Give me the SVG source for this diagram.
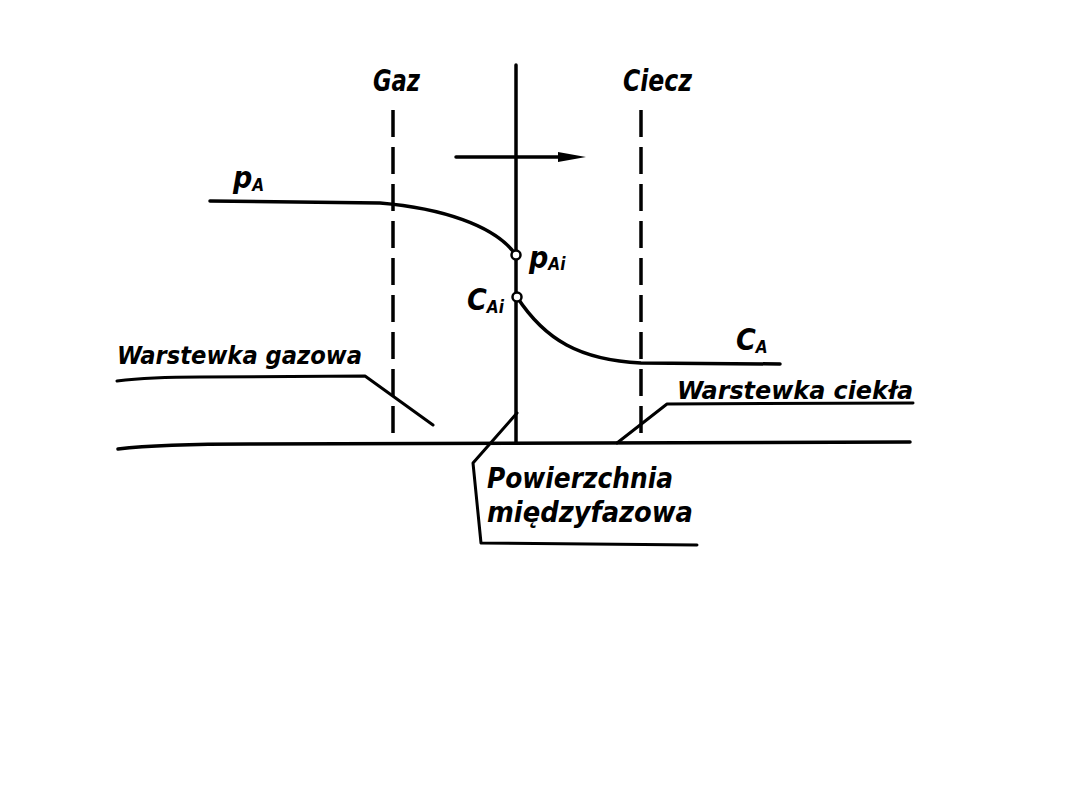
<svg xmlns="http://www.w3.org/2000/svg" width="1080" height="810" viewBox="0 0 1080 810">
<style>
.ln{fill:none;stroke:#000;stroke-width:3.5;stroke-linecap:round;stroke-linejoin:round}
.th{fill:none;stroke:#000;stroke-width:3;stroke-linecap:round;stroke-linejoin:round}
.ds{fill:none;stroke:#000;stroke-width:3.5;stroke-dasharray:27 10}
.t{font-family:"DejaVu Sans Condensed","DejaVu Sans","Liberation Sans",sans-serif;font-style:italic;font-weight:bold;fill:#000}
.pt{fill:#fff;stroke:#000;stroke-width:2.5}
</style>
<rect width="1080" height="810" fill="#fff"/>
<g id="connectors">
<path id="baseline" class="ln" d="M118,449 Q160,444 250,444 L910,442"/>
<path id="gas-film-boundary" class="ds" d="M393,110 L393,443"/>
<path id="liquid-film-boundary" class="ds" d="M641,110 L641,443"/>
<path id="interface" class="ln" d="M516,65 L516,443"/>
<path id="flux-arrow" class="ln" d="M456,157 L565,157"/>
<path d="M558,152 L586,157 L558,162 Z" fill="#000"/>
<path id="pA-curve" class="ln" d="M210,201 L380,203 C440,208 495,225 516,255"/>
<path id="cA-curve" class="ln" d="M517,297 C545,340 580,360 641,363 L780,364"/>
<path id="leader-gas" class="th" d="M117,381 Q150,377 200,377 L365,376 L433,425"/>
<path id="leader-liquid" class="th" d="M913,403 L667,404 L617,443"/>
<path id="leader-interface" class="th" d="M517,413 L473,463 L481,543 L697,545"/>
</g>
<g id="node-pAi"><circle class="pt" cx="516" cy="255" r="4.5"/></g>
<g id="node-cAi"><circle class="pt" cx="517" cy="297" r="4.5"/></g>
<g id="label-gaz"><text class="t" x="373" y="91" font-size="31" textLength="47" lengthAdjust="spacingAndGlyphs">Gaz</text></g>
<g id="label-ciecz"><text class="t" x="623" y="91" font-size="31" textLength="69" lengthAdjust="spacingAndGlyphs">Ciecz</text></g>
<g id="label-pA"><text class="t" x="233" y="188" font-size="30">p<tspan font-size="17" dy="3">A</tspan></text></g>
<g id="label-pAi"><text class="t" x="529" y="268" font-size="30">p<tspan font-size="17" dy="2">Ai</tspan></text></g>
<g id="label-cAi"><text class="t" x="467" y="310" font-size="30">C<tspan font-size="17" dy="3">Ai</tspan></text></g>
<g id="label-cA"><text class="t" x="736" y="350" font-size="30">C<tspan font-size="17" dy="3">A</tspan></text></g>
<g id="label-gas-film"><text class="t" x="117" y="364" font-size="25" textLength="245" lengthAdjust="spacingAndGlyphs">Warstewka gazowa</text></g>
<g id="label-liquid-film"><text class="t" x="677" y="399" font-size="25" textLength="236" lengthAdjust="spacingAndGlyphs">Warstewka ciekła</text></g>
<g id="label-interface">
<text class="t" x="487" y="488" font-size="28" textLength="186" lengthAdjust="spacingAndGlyphs">Powierzchnia</text>
<text class="t" x="487" y="522" font-size="28" textLength="206" lengthAdjust="spacingAndGlyphs">międzyfazowa</text>
</g>
</svg>
